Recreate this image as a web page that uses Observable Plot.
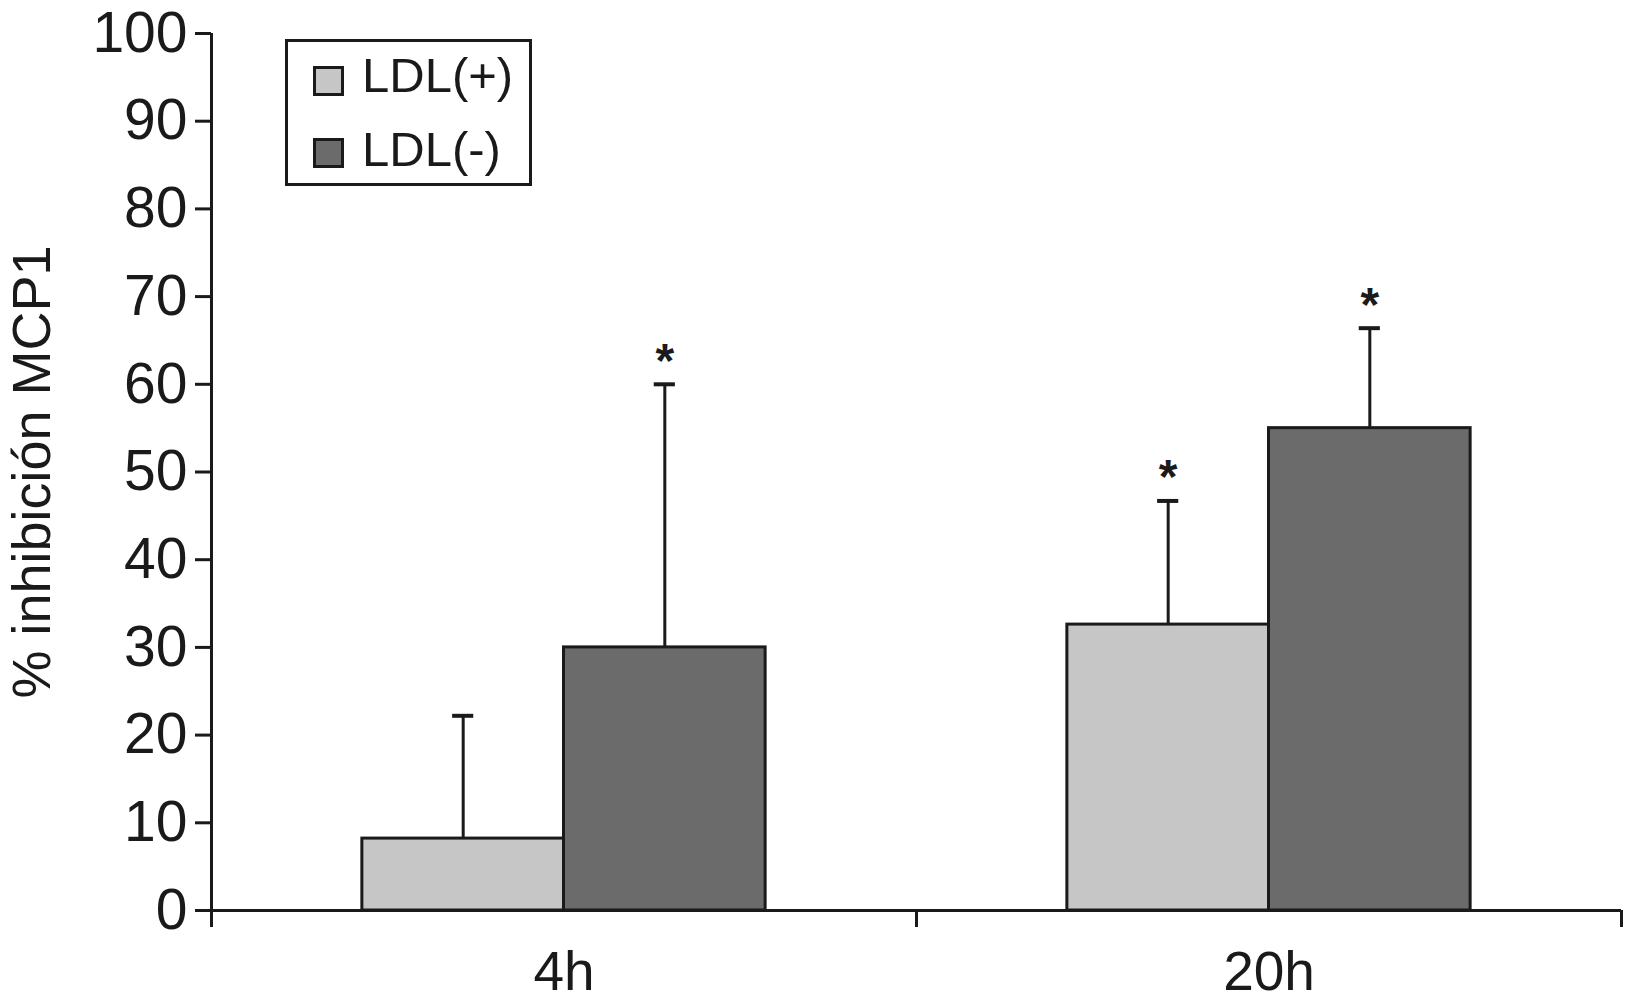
<!DOCTYPE html>
<html><head><meta charset="utf-8">
<script src="https://cdn.jsdelivr.net/npm/d3@7"></script>
<script src="https://cdn.jsdelivr.net/npm/@observablehq/plot@0.6"></script>
<style>
body{margin:0;background:#fff;}
#wrap{position:relative;width:1625px;height:1006px;font-family:"Liberation Sans",Arial,sans-serif;color:#1a1a1a;}
#wrap svg{position:absolute;left:0;top:0;}
#legend{position:absolute;left:285px;top:39px;width:247px;height:147px;box-sizing:border-box;border:3px solid #1a1a1a;background:#fff;}
.sw{position:absolute;left:25px;width:31px;height:30px;box-sizing:border-box;border:3px solid #1a1a1a;}
.lt{position:absolute;left:74px;font-size:49px;line-height:49px;white-space:nowrap;}
</style></head>
<body><div id="wrap"><div id="legend"></div></div>
<script>
// ---- data ----
const categories = ["4h", "20h"];
const series = ["LDL(+)", "LDL(-)"];
const colors = ["#c6c6c6", "#6b6b6b"];
const meanPlus = [8.2, 32.6];
const meanMinus = [30.0, 55.0];
const errPlus = [14.0, 14.1];
const errMinus = [30.0, 11.4];
const sigPlus = [false, true];
const sigMinus = [true, true];
const yTicks = [0, 10, 20, 30, 40, 50, 60, 70, 80, 90, 100];
const yLabel = "% inhibición MCP1";

const data = [];
categories.forEach((c, i) => {
  data.push({cat: c, i, j: 0, series: series[0], value: meanPlus[i], err: errPlus[i], sig: sigPlus[i]});
  data.push({cat: c, i, j: 1, series: series[1], value: meanMinus[i], err: errMinus[i], sig: sigMinus[i]});
});

const barW = 0.286;      // bar width as a fraction of a category band
const capW = 0.015;      // half-width of the error cap
const bx1 = d => d.i + 0.5 + (d.j - 1) * barW;
const bx2 = d => d.i + 0.5 + d.j * barW;
const bxc = d => d.i + 0.5 + (d.j - 0.5) * barW;
const yTop = d => d.value + d.err;
const ink = "#1a1a1a";
const font = "'Liberation Sans', Arial, sans-serif";

const chart = Plot.plot({
  width: 1625, height: 1006,
  marginLeft: 211, marginRight: 4, marginTop: 33, marginBottom: 96,
  x: {domain: [0, categories.length]},
  y: {domain: [0, 100]},
  color: {domain: series, range: colors},
  style: {fontFamily: font, color: ink, background: "transparent"},
  marks: [
    Plot.rectY(data, {x1: bx1, x2: bx2, y: "value", fill: "series", stroke: ink, strokeWidth: 3}),
    Plot.ruleX(data, {x: bxc, y1: "value", y2: yTop, stroke: ink, strokeWidth: 3}),
    Plot.ruleY(data, {y: yTop, x1: d => bxc(d) - capW, x2: d => bxc(d) + capW, stroke: ink, strokeWidth: 4}),
    Plot.text(data.filter(d => d.sig), {x: bxc, y: yTop, text: () => "*", fontSize: 48, fontWeight: "bold", dy: -23, fill: ink}),
    Plot.axisY({ticks: yTicks, tickSize: 16, tickPadding: 8, fontSize: 57, strokeWidth: 3, stroke: ink, label: null}),
    Plot.text([yLabel], {frameAnchor: "left", textAnchor: "middle", rotate: -90, lineAnchor: "top", dx: -200, fontSize: 54, fill: ink}),
    Plot.axisX({ticks: d3.range(categories.length + 1), tickSize: 17, tickFormat: () => "", strokeWidth: 3, stroke: ink, label: null}),
    Plot.axisX({ticks: categories.map((c, i) => i + 0.5), tickSize: 0, tickPadding: 40, fontSize: 55,
      tickFormat: d => categories[Math.floor(d)], label: null}),
    Plot.ruleX([0], {stroke: ink, strokeWidth: 3}),
    Plot.ruleY([0], {stroke: ink, strokeWidth: 3})
  ]
});
document.getElementById("wrap").prepend(chart);

// legend
const lg = document.getElementById("legend");
const rowTops = [[24, 9], [96, 83]];
series.forEach((s, k) => {
  const sw = document.createElement("div");
  sw.className = "sw"; sw.style.top = rowTops[k][0] + "px"; sw.style.background = colors[k];
  const t = document.createElement("div");
  t.className = "lt"; t.style.top = rowTops[k][1] + "px"; t.textContent = s;
  lg.append(sw, t);
});
</script>
</body></html>
